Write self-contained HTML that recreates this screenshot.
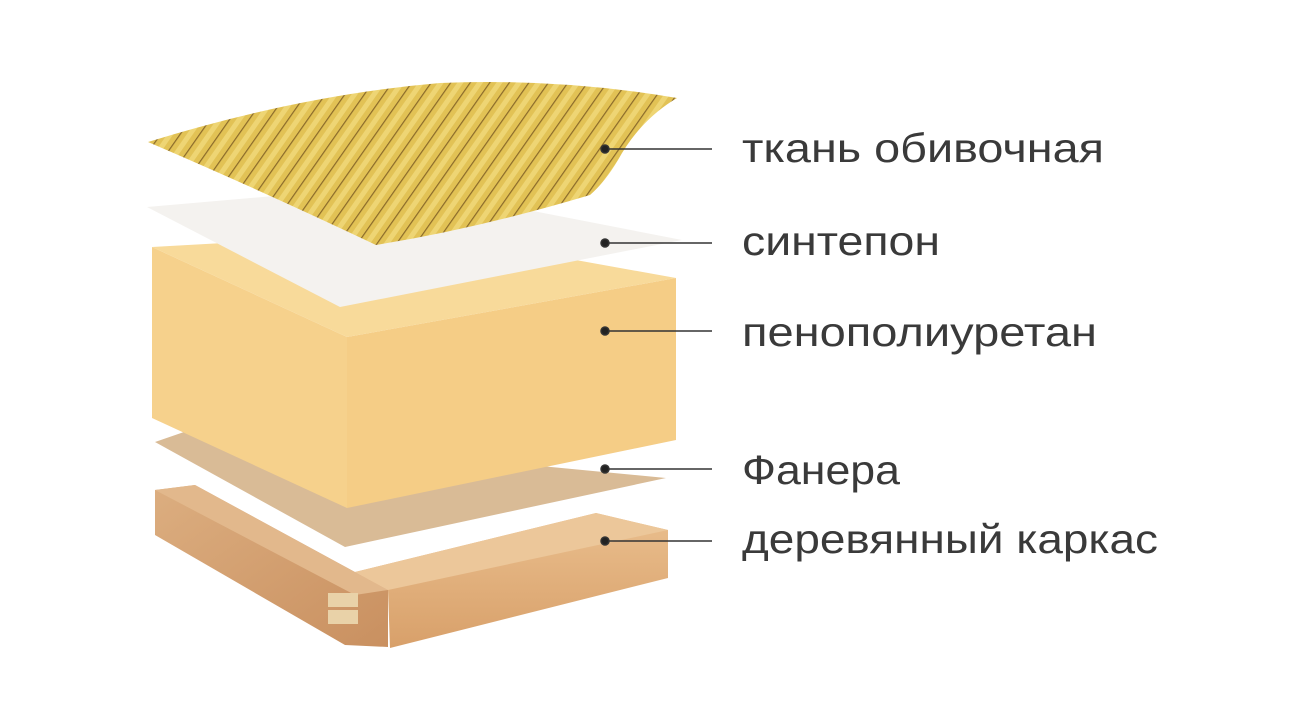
<!DOCTYPE html>
<html><head><meta charset="utf-8"><style>
html,body{margin:0;padding:0;background:#fff;width:1307px;height:717px;overflow:hidden}
svg{display:block}
text{font-family:"Liberation Sans",sans-serif;font-size:41px;fill:#3a3a3a}
</style></head><body>
<svg width="1307" height="717" viewBox="0 0 1307 717" xmlns="http://www.w3.org/2000/svg">
<defs>
<pattern id="stripes" width="16" height="16" patternUnits="userSpaceOnUse" patternTransform="rotate(35)">
<rect width="16" height="16" fill="#e2c255"/>
<rect x="0" y="0" width="1.2" height="16" fill="#8a6a2a"/>
<rect x="6" y="0" width="5" height="16" fill="#eed574"/>
</pattern>
<linearGradient id="wl" x1="0" y1="0" x2="1" y2="1"><stop offset="0" stop-color="#dcae80"/><stop offset="1" stop-color="#c99060"/></linearGradient>
<linearGradient id="wr" x1="0" y1="0" x2="0" y2="1"><stop offset="0" stop-color="#eabf8e"/><stop offset="1" stop-color="#d8a06a"/></linearGradient>
</defs>
<polygon points="155,490 195,485 388,590 388,647 345,645 155,535" fill="url(#wl)"/>
<polygon points="155,490 195,485 388,590 355,595" fill="#e2b88c"/>
<polygon points="355,572 596,513 668,530 668,578 390,648 388,590" fill="url(#wr)"/>
<polygon points="355,572 596,513 668,530 388,590" fill="#ecc79a"/>
<rect x="328" y="593" width="30" height="14" fill="#e9d2a8"/>
<rect x="328" y="610" width="30" height="14" fill="#e9d2a8"/>
<polygon points="155,442 184,432 666,478 345,547" fill="#d9bb96"/>
<polygon points="152,418 152,247 347,337 347,508" fill="#f6d18c"/>
<polygon points="347,337 676,278 676,440 347,508" fill="#f5cd86"/>
<polygon points="152,247 420,232 676,278 347,337" fill="#f8da9a"/>
<polygon points="147,207 400,185 682,240 340,307" fill="#f4f2ef"/>
<path d="M148,142 Q300,95 440,83 Q560,78 677,98 Q640,120 618,160 Q605,182 590,195 Q480,228 376,245 Q260,190 148,142 Z" fill="url(#stripes)"/>
<g stroke="#333" stroke-width="1.5" fill="#222">
<line x1="605" y1="149" x2="712" y2="149"/><circle cx="605" cy="149" r="4"/>
<line x1="605" y1="243" x2="712" y2="243"/><circle cx="605" cy="243" r="4"/>
<line x1="605" y1="331" x2="712" y2="331"/><circle cx="605" cy="331" r="4"/>
<line x1="605" y1="469" x2="712" y2="469"/><circle cx="605" cy="469" r="4"/>
<line x1="605" y1="541" x2="712" y2="541"/><circle cx="605" cy="541" r="4"/>
</g>
<text x="742" y="162" textLength="362" lengthAdjust="spacingAndGlyphs">ткань обивочная</text>
<text x="742" y="255" textLength="198" lengthAdjust="spacingAndGlyphs">синтепон</text>
<text x="742" y="346" textLength="355" lengthAdjust="spacingAndGlyphs">пенополиуретан</text>
<text x="742" y="484" textLength="158" lengthAdjust="spacingAndGlyphs">Фанера</text>
<text x="742" y="553" textLength="416" lengthAdjust="spacingAndGlyphs">деревянный каркас</text>
</svg>
</body></html>
